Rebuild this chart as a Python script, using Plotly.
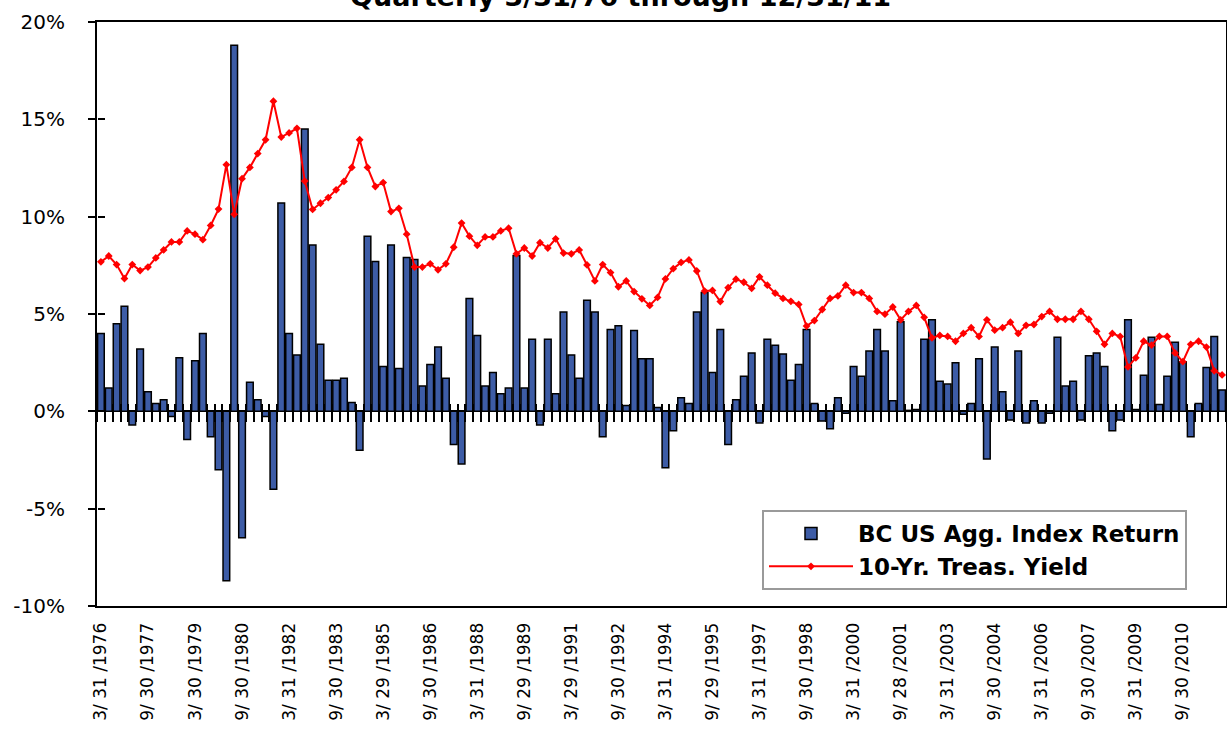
import plotly.graph_objects as go

# ---- data ----
quarters = [f"{y}Q{q}" for y in range(1976, 2012) for q in range(1, 5)]

tick_labels = ["3/ 31 /1976", "9/ 30 /1977", "3/ 30 /1979", "9/ 30 /1980",
               "3/ 31 /1982", "9/ 30 /1983", "3/ 29 /1985", "9/ 30 /1986",
               "3/ 31 /1988", "9/ 29 /1989", "3/ 29 /1991", "9/ 30 /1992",
               "3/ 31 /1994", "9/ 29 /1995", "3/ 31 /1997", "9/ 30 /1998",
               "3/ 31 /2000", "9/ 28 /2001", "3/ 31 /2003", "9/ 30 /2004",
               "3/ 31 /2006", "9/ 30 /2007", "3/ 31 /2009", "9/ 30 /2010"]

y_tick_values = [-10, -5, 0, 5, 10, 15, 20]
y_tick_labels = ["-10%", "-5%", "0%", "5%", "10%", "15%", "20%"]

agg_return = [4.0, 1.2, 4.5, 5.4, -0.7, 3.2, 1.0, 0.4, 0.6, -0.26, 2.75, -1.45,
              2.6, 4.0, -1.3, -3.0, -8.7, 18.8, -6.5, 1.5, 0.6, -0.26, -4.0, 10.7,
              4.0, 2.9, 14.5, 8.55, 3.45, 1.6, 1.6, 1.7, 0.45, -2.0, 9.0, 7.7,
              2.3, 8.55, 2.2, 7.9, 7.8, 1.3, 2.4, 3.3, 1.7, -1.7, -2.7, 5.8,
              3.9, 1.3, 2.0, 0.9, 1.2, 8.0, 1.2, 3.7, -0.7, 3.7, 0.9, 5.1,
              2.9, 1.7, 5.7, 5.1, -1.3, 4.2, 4.4, 0.3, 4.15, 2.7, 2.7, 0.2,
              -2.9, -1.0, 0.7, 0.4, 5.1, 6.1, 2.0, 4.2, -1.7, 0.6, 1.8, 3.0,
              -0.6, 3.7, 3.4, 2.95, 1.6, 2.4, 4.2, 0.4, -0.5, -0.9, 0.7, -0.1,
              2.3, 1.8, 3.1, 4.2, 3.1, 0.55, 4.6, 0.05, 0.1, 3.7, 4.7, 1.55,
              1.4, 2.5, -0.15, 0.4, 2.7, -2.45, 3.3, 1.0, -0.45, 3.1, -0.6, 0.55,
              -0.6, -0.1, 3.8, 1.3, 1.55, -0.45, 2.85, 3.0, 2.3, -1.0, -0.45, 4.7,
              0.1, 1.85, 3.8, 0.35, 1.8, 3.55, 2.55, -1.3, 0.4, 2.25, 3.85, 1.1]

treas_yield = [7.68, 7.98, 7.54, 6.82, 7.54, 7.23, 7.41, 7.88, 8.29, 8.70, 8.70, 9.27,
               9.10, 8.82, 9.55, 10.39, 12.67, 10.12, 11.95, 12.53, 13.24, 13.95, 15.93, 14.09,
               14.30, 14.54, 11.83, 10.37, 10.69, 10.98, 11.38, 11.81, 12.53, 13.95, 12.53, 11.55,
               11.75, 10.26, 10.43, 9.10, 7.41, 7.41, 7.58, 7.27, 7.58, 8.43, 9.67, 9.00,
               8.53, 8.96, 8.96, 9.27, 9.41, 8.09, 8.39, 7.98, 8.66, 8.39, 8.86, 8.13,
               8.09, 8.29, 7.52, 6.70, 7.54, 7.13, 6.40, 6.70, 6.15, 5.78, 5.44, 5.85,
               6.80, 7.33, 7.65, 7.78, 7.21, 6.18, 6.21, 5.64, 6.35, 6.79, 6.63, 6.32,
               6.91, 6.48, 6.07, 5.80, 5.65, 5.49, 4.38, 4.66, 5.23, 5.80, 5.93, 6.48,
               6.10, 6.10, 5.80, 5.13, 4.99, 5.36, 4.70, 5.13, 5.44, 4.83, 3.77, 3.90,
               3.85, 3.60, 4.00, 4.30, 3.85, 4.70, 4.17, 4.30, 4.58, 4.00, 4.42, 4.46,
               4.87, 5.13, 4.73, 4.73, 4.73, 5.13, 4.73, 4.11, 3.44, 4.00, 3.85, 2.28,
               2.75, 3.60, 3.40, 3.85, 3.85, 3.00, 2.55, 3.44, 3.60, 3.30, 2.08, 1.87]

n = len(quarters)
y_min, y_max = -10, 20

fig = go.Figure()

fig.add_trace(go.Bar(
    x=quarters, y=agg_return, name="BC US Agg. Index Return",
    marker=dict(color="#3d5ca6", line=dict(color="black", width=1.5)),
))

fig.add_trace(go.Scatter(
    x=quarters, y=treas_yield, name="10-Yr. Treas. Yield", mode="lines+markers",
    line=dict(color="#ff0000", width=2),
    marker=dict(symbol="diamond", size=6, color="#ff0000"),
))

# scaffolding trace for the crossing tick axes
fig.add_trace(go.Scatter(
    x=[-0.5, n - 0.5], y=[y_min, y_max], xaxis="x2", yaxis="y2",
    mode="markers", marker=dict(opacity=0), hoverinfo="skip", showlegend=False,
))

L, R, T, B = 97, 1, 22, 130
plot_w = 1227 - L - R

fig.update_layout(
    width=1227, height=736,
    margin=dict(l=L, r=R, t=T, b=B, autoexpand=False),
    paper_bgcolor="white", plot_bgcolor="white",
    bargap=0.15,
    showlegend=True,
    legend=dict(
        x=(762 - L) / plot_w, y=(606 - 510) / 584, xanchor="left", yanchor="top",
        bgcolor="white", bordercolor="#9a9a9a", borderwidth=2,
        font=dict(family="DejaVu Sans", size=23, color="black", weight="bold"),
        itemwidth=84, tracegroupgap=0,
    ),
    xaxis=dict(
        type="category", categoryorder="array", categoryarray=quarters,
        range=[-0.5, n - 0.5], automargin=False,
        tickmode="array", tickvals=quarters[::6], ticktext=tick_labels,
        tickangle=-90, ticks="", ticklabelstandoff=8,
        tickfont=dict(family="DejaVu Sans", size=17, color="black"),
        showline=True, linecolor="black", linewidth=2, mirror=True,
        showgrid=False, zeroline=False,
    ),
    yaxis=dict(
        range=[y_min, y_max], automargin=False,
        tickmode="array", tickvals=y_tick_values, ticktext=y_tick_labels,
        tickfont=dict(family="DejaVu Sans", size=20, color="black"),
        ticks="outside", ticklen=7, tickwidth=2, tickcolor="black",
        ticklabelstandoff=19,
        showline=True, linecolor="black", linewidth=2, mirror=True,
        showgrid=False, zeroline=True, zerolinecolor="black", zerolinewidth=2,
    ),
    xaxis2=dict(
        overlaying="x", anchor="free", automargin=False,
        position=(0.45 - y_min) / (y_max - y_min),
        range=[-0.5, n - 0.5], tick0=-0.5, dtick=1,
        ticks="outside", ticklen=18, tickwidth=2, tickcolor="black",
        showticklabels=False, showline=False, showgrid=False, zeroline=False,
    ),
    yaxis2=dict(
        overlaying="y", anchor="free", position=0, side="left", automargin=False,
        range=[y_min, y_max], tickmode="array", tickvals=y_tick_values,
        ticks="inside", ticklen=7, tickwidth=2, tickcolor="black",
        showticklabels=False, showline=False, showgrid=False, zeroline=False,
    ),
    annotations=[dict(
        text="Quarterly 3/31/76 through 12/31/11",
        xref="paper", yref="paper", x=(620 - L) / plot_w, y=1,
        xanchor="center", yanchor="middle", yshift=26, showarrow=False,
        font=dict(family="DejaVu Sans", size=27, color="black", weight="bold"),
    )],
)

fig.write_html(
    "out.html",
    config={"displayModeBar": False},
    post_script="document.body.style.margin='0';document.body.style.overflow='hidden';",
)
